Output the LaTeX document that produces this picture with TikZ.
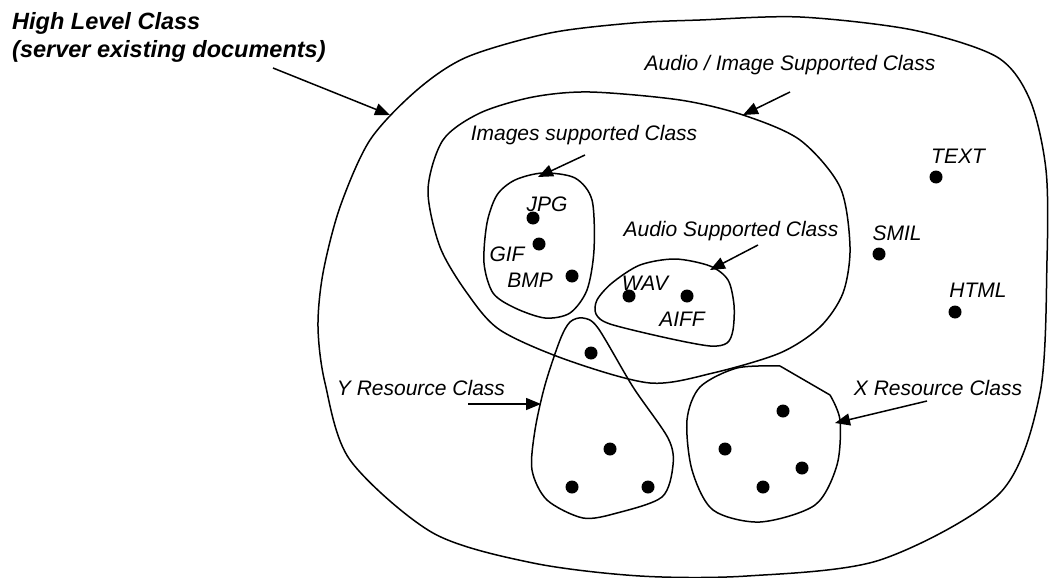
\documentclass[tikz,border=0pt]{standalone}
\usepackage{fontspec}
\setmainfont{Liberation Sans}
\usetikzlibrary{arrows.meta}

\tikzstyle{classLine}=[line width=1.5pt]
\tikzstyle{docDot}=[circle,fill=black,inner sep=0pt,minimum size=13pt]
\tikzstyle{docLabel}=[inner sep=0pt,font=\fontsize{21}{25}\selectfont\itshape]
\tikzstyle{titleLabel}=[inner sep=0pt,align=left,font=\fontsize{23.5}{27.5}\selectfont\bfseries\itshape]
\tikzstyle{classArrow}=[-{Triangle[length=15pt,width=12pt]},line width=1.5pt]

\begin{document}
\begin{tikzpicture}[x=1pt,y=-1pt]

  \useasboundingbox (0,0) rectangle (1049,578);

  % class outlines
  \draw[classLine] plot[smooth cycle] coordinates {(700,20) (800,17) (913,30) (997,57) (1030,100) (1046,170) (1047,260) (1040,393) (1000,493) (880,560) (747,576) (640,576) (533,563) (433,533) (350,460) (325,383) (318,327) (323,273) (340,207) (370,140) (417,90) (467,57) (550,33) (633,23)};
  \draw[classLine] plot[smooth cycle] coordinates {(590,92) (680,100) (743,115) (800,140) (840,187) (850,247) (843,293) (820,327) (780,353) (713,373) (650,383) (567,360) (500,330) (467,293) (440,247) (428,190) (443,140) (480,113) (533,97)};
  \draw[classLine] plot[smooth cycle] coordinates {(543,173) (575,178) (592,200) (594,250) (587,290) (570,313) (545,318) (515,308) (493,293) (484,263) (487,223) (497,195) (515,180)};
  \draw[classLine] plot[smooth cycle] coordinates {(597,300) (612,283) (640,265) (675,259) (710,266) (728,280) (734,305) (733,330) (727,343) (710,346) (667,338) (610,324) (596,314)};
  \draw[classLine] plot[smooth cycle] coordinates {(583,318) (598,328) (633,387) (668,438) (673,465) (662,497) (617,513) (583,518) (547,500) (532,470) (535,430) (545,385) (560,340) (570,322)};
  \draw[classLine,line join=round] (780,366) -- (830,395) plot[smooth] coordinates {(830,395) (840,420) (837,465) (815,505) (760,522) (713,510) (692,470) (687,420) (700,387) (737,368) (780,366)};

  % documents
  \node[docDot] (jpg) at (533,218) {};
  \node[docDot] (gif) at (539,244) {};
  \node[docDot] (bmp) at (572,276) {};
  \node[docDot] (wav) at (629,296) {};
  \node[docDot] (aiff) at (687,296) {};
  \node[docDot] (text) at (936,177) {};
  \node[docDot] (smil) at (879,254) {};
  \node[docDot] (html) at (955,312) {};
  \node[docDot] (y1) at (591,353) {};
  \node[docDot] (y2) at (610,449) {};
  \node[docDot] (y3) at (572,487) {};
  \node[docDot] (y4) at (648,487) {};
  \node[docDot] (x1) at (783,411) {};
  \node[docDot] (x2) at (725,449) {};
  \node[docDot] (x3) at (802,468) {};
  \node[docDot] (x4) at (763,487) {};

  \node[docLabel] (jpgL) at (547,204) {JPG};
  \node[docLabel] (gifL) at (507,254) {GIF};
  \node[docLabel] (bmpL) at (530,280) {BMP};
  \node[docLabel] (wavL) at (645,283) {WAV};
  \node[docLabel] (aiffL) at (682,319) {AIFF};
  \node[docLabel] (textL) at (958,156) {TEXT};
  \node[docLabel] (smilL) at (897,233) {SMIL};
  \node[docLabel] (htmlL) at (978,290) {HTML};

  % class names
  \node[titleLabel,anchor=north west] (highL) at (12,12.5) {High Level Class\\(server existing documents)};
  \node[docLabel] (avL) at (790,65) {Audio / Image Supported Class};
  \node[docLabel] (imgL) at (584,135) {Images supported Class};
  \node[docLabel] (audL) at (731,231) {Audio Supported Class};
  \node[docLabel] (yL) at (421,388) {Y Resource Class};
  \node[docLabel] (xL) at (938,388) {X Resource Class};

  \coordinate (highS) at (273,68);
  \coordinate (highT) at (390,115);
  \coordinate (avS) at (790,92);
  \coordinate (avT) at (743,115);
  \coordinate (imgS) at (585,155);
  \coordinate (imgT) at (538,177);
  \coordinate (audS) at (758,245);
  \coordinate (audT) at (710,270);
  \coordinate (yS) at (468,404);
  \coordinate (yT) at (541,404);
  \coordinate (xS) at (927,401);
  \coordinate (xT) at (835,423);

  \path[classArrow,draw] (highS) -- (highT);
  \path[classArrow,draw] (avS) -- (avT);
  \path[classArrow,draw] (imgS) -- (imgT);
  \path[classArrow,draw] (audS) -- (audT);
  \path[classArrow,draw] (yS) -- (yT);
  \path[classArrow,draw] (xS) -- (xT);

\end{tikzpicture}
\end{document}
